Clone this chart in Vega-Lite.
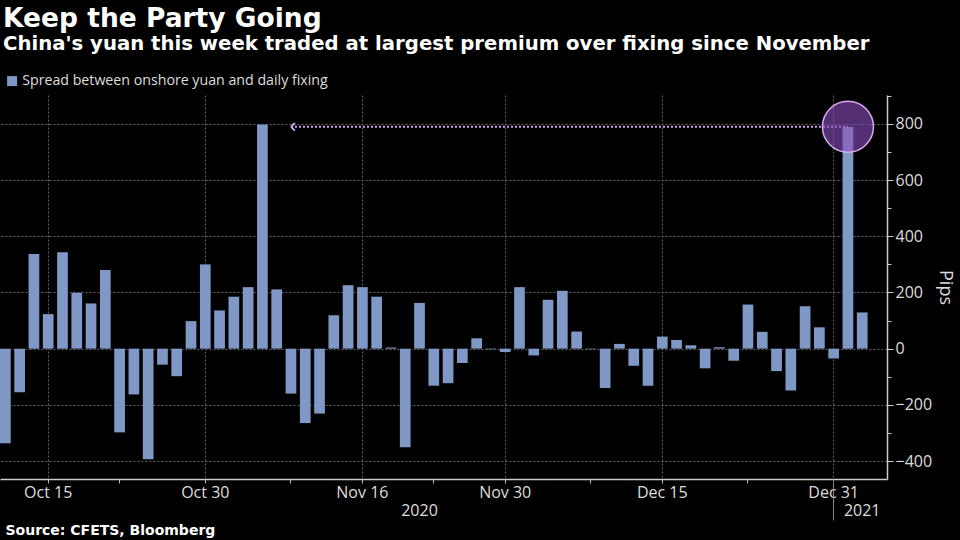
{
  "$schema": "https://vega.github.io/schema/vega-lite/v6.json",
  "width": 887,
  "height": 384,
  "autosize": {"type": "none"},
  "padding": {"left": 0, "top": 95, "right": 73, "bottom": 61},
  "background": "#000000",
  "title": {
    "text": "Keep the Party Going",
    "subtitle": "China's yuan this week traded at largest premium over fixing since November",
    "anchor": "start",
    "frame": "group",
    "dx": 3,
    "offset": 20,
    "font": "DejaVu Sans",
    "fontSize": 26.5,
    "fontWeight": "bold",
    "color": "#ffffff",
    "subtitleFont": "DejaVu Sans",
    "subtitleFontSize": 19.7,
    "subtitleFontWeight": "bold",
    "subtitleColor": "#ffffff",
    "subtitlePadding": 2
  },
  "datasets": {
    "spread": [
      {"date": "2020-10-12", "value": -337},
      {"date": "2020-10-13", "value": -155},
      {"date": "2020-10-14", "value": 337},
      {"date": "2020-10-15", "value": 123},
      {"date": "2020-10-16", "value": 343},
      {"date": "2020-10-19", "value": 199},
      {"date": "2020-10-20", "value": 161},
      {"date": "2020-10-21", "value": 280},
      {"date": "2020-10-22", "value": -298},
      {"date": "2020-10-23", "value": -163},
      {"date": "2020-10-26", "value": -394},
      {"date": "2020-10-27", "value": -57},
      {"date": "2020-10-28", "value": -98},
      {"date": "2020-10-29", "value": 98},
      {"date": "2020-10-30", "value": 300},
      {"date": "2020-11-02", "value": 136},
      {"date": "2020-11-03", "value": 185},
      {"date": "2020-11-04", "value": 219},
      {"date": "2020-11-05", "value": 798},
      {"date": "2020-11-06", "value": 211},
      {"date": "2020-11-09", "value": -160},
      {"date": "2020-11-10", "value": -265},
      {"date": "2020-11-11", "value": -231},
      {"date": "2020-11-12", "value": 119},
      {"date": "2020-11-13", "value": 226},
      {"date": "2020-11-16", "value": 219},
      {"date": "2020-11-17", "value": 185},
      {"date": "2020-11-18", "value": 4},
      {"date": "2020-11-19", "value": -351},
      {"date": "2020-11-20", "value": 163},
      {"date": "2020-11-23", "value": -132},
      {"date": "2020-11-24", "value": -123},
      {"date": "2020-11-25", "value": -51},
      {"date": "2020-11-26", "value": 37},
      {"date": "2020-11-27", "value": -2},
      {"date": "2020-11-30", "value": -12},
      {"date": "2020-12-01", "value": 219},
      {"date": "2020-12-02", "value": -24},
      {"date": "2020-12-03", "value": 174},
      {"date": "2020-12-04", "value": 206},
      {"date": "2020-12-07", "value": 61},
      {"date": "2020-12-08", "value": -2},
      {"date": "2020-12-09", "value": -140},
      {"date": "2020-12-10", "value": 17},
      {"date": "2020-12-11", "value": -61},
      {"date": "2020-12-14", "value": -132},
      {"date": "2020-12-15", "value": 43},
      {"date": "2020-12-16", "value": 31},
      {"date": "2020-12-17", "value": 12},
      {"date": "2020-12-18", "value": -70},
      {"date": "2020-12-21", "value": 5},
      {"date": "2020-12-22", "value": -43},
      {"date": "2020-12-23", "value": 157},
      {"date": "2020-12-24", "value": 60},
      {"date": "2020-12-25", "value": -80},
      {"date": "2020-12-28", "value": -149},
      {"date": "2020-12-29", "value": 151},
      {"date": "2020-12-30", "value": 76},
      {"date": "2020-12-31", "value": -35},
      {"date": "2021-01-04", "value": 789},
      {"date": "2021-01-05", "value": 129}
    ],
    "annot": [
      {"from": "2020-11-09", "to": "2021-01-04", "level": 790}
    ]
  },
  "layer": [
    {
      "data": {"name": "spread"},
      "mark": {"type": "bar"},
      "encoding": {
        "x": {
          "field": "date",
          "type": "ordinal",
          "scale": {"paddingInner": 0.25, "paddingOuter": 0.68, "align": 0},
          "axis": {
            "orient": "bottom",
            "title": null,
            "values": ["2020-10-15", "2020-10-30", "2020-11-16", "2020-11-30", "2020-12-15", "2020-12-31"],
            "labelExpr": "utcFormat(toDate(datum.value), '%b %-d')",
            "labelAngle": 0,
            "labelFont": "Open Sans",
            "labelFontSize": 16,
            "labelColor": "#dddddd",
            "labelPadding": 1,
            "labelOverlap": false,
            "labelFlush": false,
            "grid": true,
            "gridColor": "#636363",
            "gridDash": [2, 2],
            "gridWidth": 1,
            "tickSize": 4,
            "tickColor": "#bbbbbb",
            "domainColor": "#cccccc",
            "domainWidth": 1.5
          }
        },
        "y": {
          "field": "value",
          "type": "quantitative",
          "scale": {"domain": [-464, 903], "nice": false, "zero": false},
          "axis": {
            "orient": "right",
            "values": [-400, -200, 0, 200, 400, 600, 800],
            "title": "Pips",
            "titleFont": "Open Sans",
            "titleFontWeight": "normal",
            "titleFontSize": 18,
            "titleColor": "#dddddd",
            "titlePadding": 4,
            "labelFont": "Open Sans",
            "labelFontSize": 16,
            "labelColor": "#dddddd",
            "labelPadding": 2,
            "grid": true,
            "gridColor": "#636363",
            "gridDash": [2, 2],
            "tickSize": 6,
            "tickColor": "#cccccc",
            "domainColor": "#cccccc",
            "domainWidth": 1.5
          }
        },
        "color": {
          "datum": "Spread between onshore yuan and daily fixing",
          "type": "nominal",
          "scale": {"range": ["#7f98c6"]},
          "legend": {
            "orient": "none",
            "legendX": 5,
            "legendY": -21,
            "title": null,
            "symbolType": "square",
            "symbolSize": 100,
            "symbolStrokeWidth": 0,
            "labelFont": "Open Sans",
            "labelFontSize": 14.2,
            "labelColor": "#dddddd",
            "labelOffset": 3,
            "labelLimit": 0
          }
        }
      }
    },
    {
      "data": {"name": "annot"},
      "mark": {"type": "rule", "color": "#c9a0e8", "strokeWidth": 2, "strokeDash": [2, 2]},
      "encoding": {
        "x": {
          "field": "from",
          "type": "ordinal",
          "axis": {
            "orient": "bottom",
            "title": null,
            "values": ["2020-10-22", "2020-11-09", "2020-11-23", "2020-12-08", "2020-12-23"],
            "labels": false,
            "domain": false,
            "grid": false,
            "tickSize": 4,
            "tickColor": "#bbbbbb"
          }
        },
        "x2": {"field": "to"},
        "y": {
          "field": "level",
          "type": "quantitative",
          "axis": {
            "orient": "right",
            "title": null,
            "values": [-300, -100, 100, 300, 500, 700, 900],
            "labels": false,
            "domain": false,
            "grid": false,
            "tickSize": 4,
            "tickColor": "#cccccc"
          }
        }
      }
    },
    {
      "data": {"name": "annot"},
      "mark": {"type": "point", "shape": "M0,0L1,-1M0,0L1,1", "filled": false, "size": 60, "strokeWidth": 2, "color": "#c9a0e8", "opacity": 1},
      "encoding": {
        "x": {
          "field": "from",
          "type": "ordinal",
          "axis": {
            "orient": "bottom",
            "title": null,
            "values": ["2020-12-31"],
            "labels": false,
            "domain": false,
            "grid": false,
            "tickSize": 41,
            "tickColor": "#888888"
          }
        },
        "y": {"field": "level", "type": "quantitative", "axis": null}
      }
    },
    {
      "data": {"name": "annot"},
      "mark": {"type": "point", "shape": "circle", "size": 2600, "fill": "#8e4fc0", "fillOpacity": 0.6, "stroke": "#d9a8f5", "strokeWidth": 1.5, "strokeOpacity": 1},
      "encoding": {
        "x": {
          "field": "to",
          "type": "ordinal",
          "axis": {
            "orient": "bottom",
            "values": ["2020-11-20", "2021-01-05"],
            "labelExpr": "substring(datum.value, 0, 4)",
            "labelAngle": 0,
            "labelFont": "Open Sans",
            "labelFontSize": 16,
            "labelColor": "#dddddd",
            "labelPadding": 23,
            "labelOverlap": false,
            "labelFlush": false,
            "ticks": false,
            "tickSize": 0,
            "domain": false,
            "grid": false,
            "title": "Source: CFETS, Bloomberg",
            "titleAnchor": "start",
            "titleAlign": "left",
            "titleX": 5,
            "titleFont": "DejaVu Sans",
            "titleFontSize": 14,
            "titleFontWeight": "bold",
            "titleColor": "#ffffff",
            "titlePadding": 5
          }
        },
        "y": {"field": "level", "type": "quantitative", "axis": null}
      }
    }
  ],
  "resolve": {"axis": {"x": "independent", "y": "independent"}},
  "config": {
    "view": {"stroke": null},
    "font": "Open Sans"
  }
}
